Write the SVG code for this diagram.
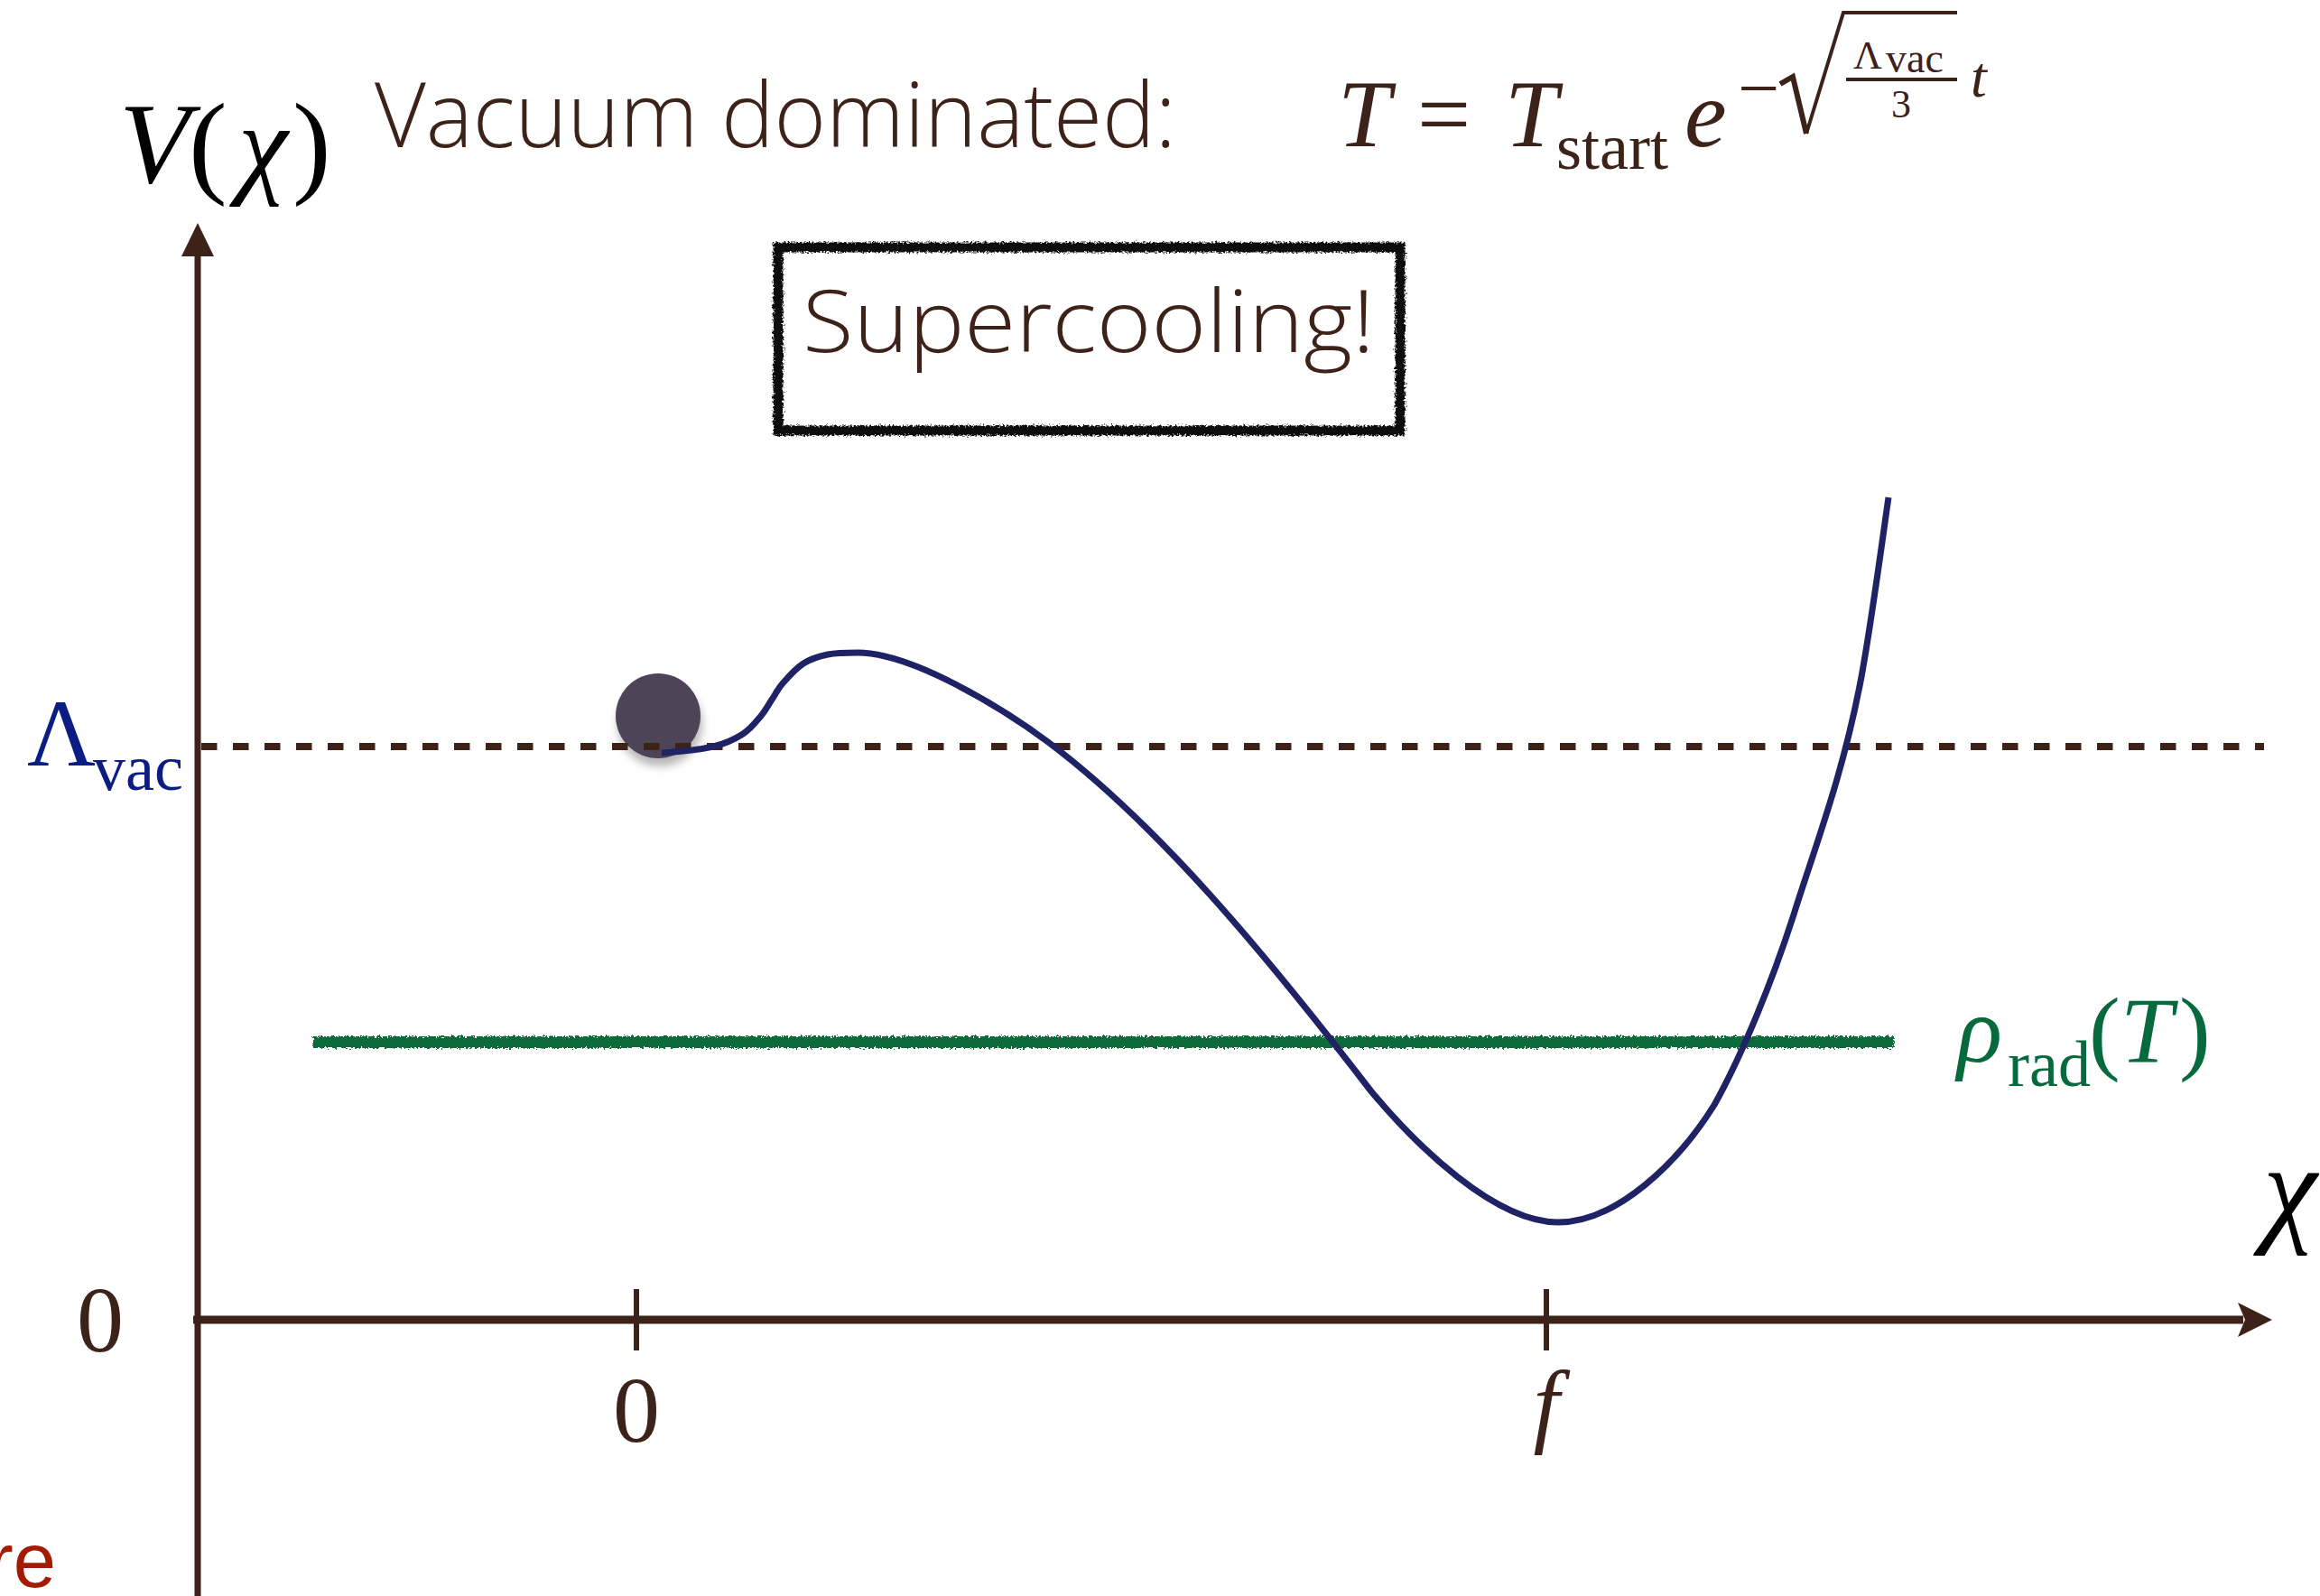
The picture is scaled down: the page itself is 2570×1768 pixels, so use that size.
<svg xmlns="http://www.w3.org/2000/svg" width="2570" height="1768" viewBox="0 0 2570 1768">
<style>
.brown{fill:#3d2219}
.serif{font-family:"Liberation Serif","Times New Roman",serif}
.it{font-style:italic}
.hand{font-family:"Open Sans","Liberation Sans",sans-serif;font-weight:300;fill:#3d2219}
.axis{stroke:#3d2219;fill:none}
</style>
<defs>
<filter id="rough" x="-5%" y="-30%" width="110%" height="160%">
<feTurbulence type="fractalNoise" baseFrequency="0.45" numOctaves="2" seed="4"/>
<feDisplacementMap in="SourceGraphic" scale="7" xChannelSelector="R" yChannelSelector="G"/>
</filter>
<filter id="shadow" x="-50%" y="-50%" width="200%" height="200%">
<feGaussianBlur stdDeviation="5"/>
</filter>
</defs>
<rect width="2570" height="1768" fill="#ffffff"/>

<g id="title">
<text class="hand" x="415" y="163" font-size="100" textLength="888" lengthAdjust="spacingAndGlyphs">Vacuum dominated:</text>
</g>

<g id="formula" class="serif" fill="#3d2219">
<text class="it" x="1482" y="162" font-size="105">T</text>
<text x="1570" y="162" font-size="105">=</text>
<text class="it" x="1667" y="162" font-size="105">T</text>
<text x="1724" y="187" font-size="72">start</text>
<text class="it" x="1866" y="162" font-size="105">e</text>
<text x="1925" y="125" font-size="82">−</text>
<path d="M1972 93 L1986 85 L2001 148" stroke="#3d2219" stroke-width="6" fill="none" stroke-linejoin="miter"/>
<path d="M2001 148 L2042 14 L2168 14" stroke="#3d2219" stroke-width="4" fill="none"/>
<text x="2053" y="76" font-size="44">Λ</text>
<text x="2089" y="80" font-size="46">vac</text>
<line x1="2045" y1="88" x2="2168" y2="88" stroke="#3d2219" stroke-width="4"/>
<text x="2106" y="130" font-size="44" text-anchor="middle">3</text>
<text class="it" x="2183" y="107" font-size="64">t</text>
</g>

<g id="supercooling">
<rect x="862" y="274" width="689" height="203" fill="none" stroke="#111" stroke-width="11" filter="url(#rough)"/>
<text class="hand" x="889" y="390" font-size="95" textLength="634" lengthAdjust="spacingAndGlyphs">Supercooling!</text>
</g>

<g id="axes">
<line class="axis" x1="219" y1="1768" x2="219" y2="278" stroke-width="7"/>
<polygon points="219,247 201,284 237,284" fill="#3d2219"/>
<line class="axis" x1="214" y1="1462" x2="2485" y2="1462" stroke-width="9"/>
<polygon points="2517,1462 2479,1443 2487,1462 2479,1481" fill="#3d2219"/>
<line class="axis" x1="705" y1="1428" x2="705" y2="1496" stroke-width="6"/>
<line class="axis" x1="1713" y1="1428" x2="1713" y2="1496" stroke-width="6"/>
</g>

<g id="axis-labels" class="serif">
<text class="it" x="132" y="202" font-size="128" fill="#000">V</text>
<text x="209" y="202" font-size="128" fill="#000">(</text>
<text class="it" x="264" y="202" font-size="124" fill="#000">χ</text>
<text x="324" y="202" font-size="128" fill="#000">)</text>
<text class="it" x="2507" y="1362" font-size="135" fill="#000">χ</text>
<text x="111" y="1497" font-size="104" text-anchor="middle" fill="#3d2219">0</text>
<text x="705" y="1597" font-size="104" text-anchor="middle" fill="#3d2219">0</text>
<text class="it" x="1713" y="1590" font-size="104" text-anchor="middle" fill="#3d2219">f</text>
<text x="30" y="848" font-size="105" fill="#0b1c82">Λ</text>
<text x="103" y="875" font-size="72" fill="#0b1c82">vac</text>
<text class="it" x="2168" y="1176" font-size="104" fill="#076a3d">ρ</text>
<text x="2224" y="1203" font-size="72" fill="#076a3d">rad</text>
<text x="2314" y="1177" font-size="104" fill="#076a3d">(</text>
<text class="it" x="2349" y="1177" font-size="104" fill="#076a3d">T</text>
<text x="2414" y="1177" font-size="104" fill="#076a3d">)</text>
<text x="62" y="1758" font-size="85" text-anchor="end" fill="#a31b00" font-family="Liberation Sans, Arial, sans-serif">re</text>
</g>

<g id="radiation-line">
<rect x="347" y="1148" width="1751" height="13" fill="#0b6b3a" filter="url(#rough)"/>
</g>

<g id="ball">
<circle cx="731" cy="802" r="47" fill="#000" opacity="0.28" filter="url(#shadow)"/>
<circle cx="729" cy="793" r="47" fill="#4e4457"/>
</g>

<g id="vacuum-line">
<line x1="223" y1="827" x2="2508" y2="827" stroke="#3d2219" stroke-width="8" stroke-dasharray="17.5 17.5"/>
</g>

<g id="potential">
<path fill="none" stroke="#1f2366" stroke-width="7" d="M733 834 C752 832.8 775 830.5 790 827 C805 823.5 814.2 818.7 823 813 C831.8 807.3 837.7 799.3 843 793 C848.3 786.7 851 781 855 775 C859 769 861.2 763.7 867 757 C872.8 750.3 881.7 740.3 890 735 C898.3 729.7 907 727 917 725 C927 723 939 723 950 723 C1010 723 1110 784 1161 822 C1281 912 1399 1053 1519 1209 C1569 1269 1656 1354 1726 1354 C1791 1354 1859 1288 1899 1224 C1929 1170 1963 1088.75 1988 1010 C2012 934.4 2041 859 2061 755 C2071 703 2082 621 2092 551"/>
</g>
</svg>
